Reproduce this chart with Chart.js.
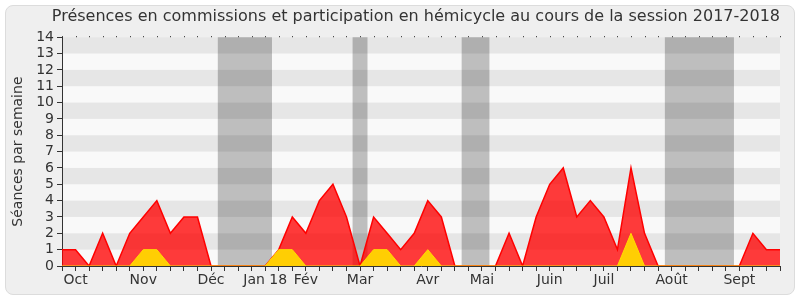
<!DOCTYPE html>
<html>
<head>
<meta charset="utf-8">
<script src="https://cdn.jsdelivr.net/npm/chart.js@4/dist/chart.umd.min.js"></script>
<style>
  body { margin: 0; background: #fff; }
  #panel {
    position: absolute; left: 5px; top: 5px; width: 788px; height: 288px;
    background: #efefef; border: 1px solid #dcdcdc; border-radius: 8px;
  }
  #wrap { position: absolute; left: 0; top: 0; width: 800px; height: 300px; }
</style>
</head>
<body>
<div id="panel"></div>
<div id="wrap"><canvas id="chart" width="800" height="300"></canvas></div>
<script>
// semaines de la session (54 points), libellés de mois sur certaines semaines
const monthWeeks = [1, 6, 11, 15, 18, 22, 27, 31, 36, 40, 45, 50];
const monthNames = ["Oct", "Nov", "Déc", "Jan 18", "Fév", "Mar", "Avr", "Mai", "Juin", "Juil", "Août", "Sept"];

// présences en commissions
const commissions = [1, 1, 0, 2, 0, 2, 3, 4, 2, 3, 3, 0, 0, 0, 0, 0, 1, 3, 2, 4,
  5, 3, 0, 3, 2, 1, 2, 4, 3, 0, 0, 0, 0, 2, 0, 3, 5, 6, 3, 4,
  3, 1, 6, 2, 0, 0, 0, 0, 0, 0, 0, 2, 1, 1];
// participation en hémicycle
const hemicycle = [0, 0, 0, 0, 0, 0, 1, 1, 0, 0, 0, 0, 0, 0, 0, 0, 1, 1, 0, 0,
  0, 0, 0, 1, 1, 0, 0, 1, 0, 0, 0, 0, 0, 0, 0, 0, 0, 0, 0, 0,
  0, 0, 2, 0, 0, 0, 0, 0, 0, 0, 0, 0, 0, 0];

// vacances parlementaires (en semaines)
const vacStart = [11.5, 21.45, 29.5, 44.5];
const vacEnd = [15.5, 22.55, 31.55, 49.6];

const yTicks = [0, 14];

const labels = commissions.map((_, i) => {
  const k = monthWeeks.indexOf(i);
  return k >= 0 ? monthNames[k] : "";
});

const backdrop = {
  id: "backdrop",
  beforeDraw(chart) {
    const { ctx, chartArea: a, scales } = chart;
    const x = scales.x, y = scales.y;
    ctx.save();
    ctx.fillStyle = "#f9f9f9";
    ctx.fillRect(a.left, a.top, a.right - a.left, a.bottom - a.top);
    ctx.fillStyle = "#bebebe";
    vacStart.forEach((s, i) => {
      const x0 = x.getPixelForValue(s), x1 = x.getPixelForValue(vacEnd[i]);
      ctx.fillRect(x0, a.top, x1 - x0, a.bottom - a.top);
    });
    ctx.fillStyle = "rgba(0,0,0,0.075)";
    for (let v = 1; v < yTicks[1]; v += 2) {
      const y0 = y.getPixelForValue(v + 1), y1 = y.getPixelForValue(v);
      ctx.fillRect(a.left, y0, a.right - a.left, y1 - y0);
    }
    ctx.fillStyle = "#222";
    for (let i = 0; i < labels.length; i++) {
      const px = Math.round(x.getPixelForValue(i));
      ctx.fillRect(px, a.top - 1, 1, 1);
    }
    ctx.restore();
  }
};

new Chart(document.getElementById("chart"), {
  type: "line",
  data: {
    labels: labels,
    datasets: [
      {
        label: "Hémicycle",
        data: hemicycle,
        order: 1,
        borderColor: "#ffdd00",
        backgroundColor: "rgba(255,214,0,0.95)",
        borderWidth: 1,
        fill: "origin",
        pointRadius: 0,
        tension: 0
      },
      {
        label: "Commissions",
        data: commissions,
        order: 2,
        borderColor: "#ff0000",
        backgroundColor: "rgba(255,0,0,0.77)",
        borderWidth: 1.5,
        fill: "origin",
        pointRadius: 0,
        tension: 0
      }
    ]
  },
  options: {
    responsive: false,
    animation: false,
    layout: { padding: { left: 10, right: 20, top: 0, bottom: 10 } },
    plugins: {
      legend: { display: false },
      tooltip: { enabled: false },
      title: {
        display: true,
        align: "end",
        text: "Présences en commissions et participation en hémicycle au cours de la session 2017-2018",
        color: "#333",
        font: { family: "DejaVu Sans", size: 16, weight: "normal" },
        padding: { top: 7, bottom: 11 }
      }
    },
    scales: {
      x: {
        type: "category",
        offset: false,
        afterFit: s => { s.height = 24; },
        grid: { drawOnChartArea: false, drawTicks: true, tickLength: 5, color: "#333" },
        border: { display: true, color: "#333" },
        ticks: {
          autoSkip: false, maxRotation: 0, padding: 1, color: "#333",
          font: { family: "DejaVu Sans", size: 14 }
        }
      },
      y: {
        min: yTicks[0],
        max: yTicks[1],
        afterFit: s => { s.width = 52; },
        grid: { drawOnChartArea: false, drawTicks: true, tickLength: 5, color: "#333" },
        border: { display: true, color: "#333" },
        ticks: {
          stepSize: 1, autoSkip: false, padding: 3, color: "#333",
          font: { family: "DejaVu Sans", size: 14 }
        },
        title: {
          display: true,
          text: "Séances par semaine",
          color: "#333",
          padding: 0,
          font: { family: "DejaVu Sans", size: 14 }
        }
      }
    }
  },
  plugins: [backdrop]
});
</script>
</body>
</html>
